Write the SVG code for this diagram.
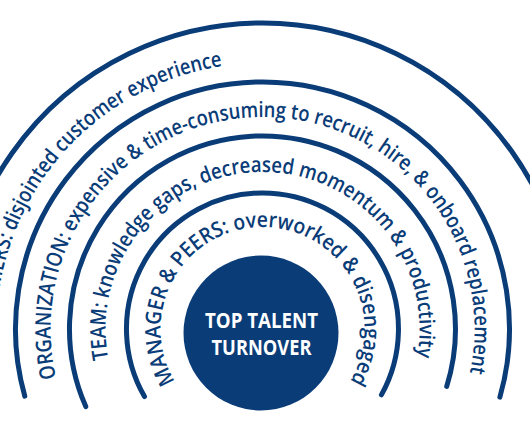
<svg xmlns="http://www.w3.org/2000/svg" xmlns:xlink="http://www.w3.org/1999/xlink" width="530" height="442" viewBox="0 0 530 442">
<style>
.arc{fill:none;stroke:#0a3c78;stroke-width:5;stroke-linecap:round}
.lbl{font-family:"Open Sans","Noto Sans","Liberation Sans",sans-serif;font-weight:600;font-size:21.5px;fill:#0a3c78}
.core{font-family:"Open Sans","Noto Sans","Liberation Sans",sans-serif;font-weight:700;font-size:22px;fill:#ffffff}
</style>
<defs>
<path id="p1" d="M -87.43 52.53 A 102 102 0 1 1 87.79 51.92"/>
<path id="p2" d="M -154.11 29.96 A 157 157 0 1 1 154.47 28.07"/>
<path id="p3" d="M -206.32 48.77 A 212 212 0 1 1 207.37 44.08"/>
<path id="p4" d="M -265.35 18.56 A 266 266 0 0 1 -39.31 -263.07"/>
</defs>
<rect width="530" height="442" fill="#ffffff"/>
<g id="connectors" transform="translate(262.5 329)">
<path class="arc" d="M -287.5 104.7 A 306 306 0 1 1 287.5 104.7"/>
<path class="arc" d="M -237.7 67.2 A 247 247 0 1 1 237.4 68.1"/>
<path class="arc" d="M -176.7 77.6 A 193 193 0 1 1 184.2 57.4"/>
<path class="arc" d="M -118.0 67.6 A 136 136 0 1 1 118.9 65.9"/>
</g>
<g id="customers" transform="translate(262.5 329)">
<text class="lbl"><textPath xlink:href="#p4" href="#p4" textLength="396" lengthAdjust="spacingAndGlyphs">CUSTOMERS: disjointed customer experience</textPath></text>
</g>
<g id="organization" transform="translate(262.5 329)">
<text class="lbl"><textPath xlink:href="#p3" href="#p3" textLength="759" lengthAdjust="spacingAndGlyphs">ORGANIZATION: expensive &amp; time-consuming to recruit, hire, &amp; onboard replacement</textPath></text>
</g>
<g id="team" transform="translate(262.5 329)">
<text class="lbl"><textPath xlink:href="#p2" href="#p2" textLength="551" lengthAdjust="spacingAndGlyphs">TEAM: knowledge gaps, decreased momentum &amp; productivity</textPath></text>
</g>
<g id="manager" transform="translate(262.5 329)">
<text class="lbl"><textPath xlink:href="#p1" href="#p1" textLength="430" lengthAdjust="spacingAndGlyphs">MANAGER &amp; PEERS: overworked &amp; disengaged</textPath></text>
</g>
<g id="top-talent-turnover">
<circle cx="261" cy="333" r="77.5" fill="#0a3c78"/>
<text class="core" x="261.5" y="328" text-anchor="middle" textLength="113" lengthAdjust="spacingAndGlyphs">TOP TALENT</text>
<text class="core" x="261.5" y="355" text-anchor="middle" textLength="100" lengthAdjust="spacingAndGlyphs">TURNOVER</text>
</g>
</svg>
